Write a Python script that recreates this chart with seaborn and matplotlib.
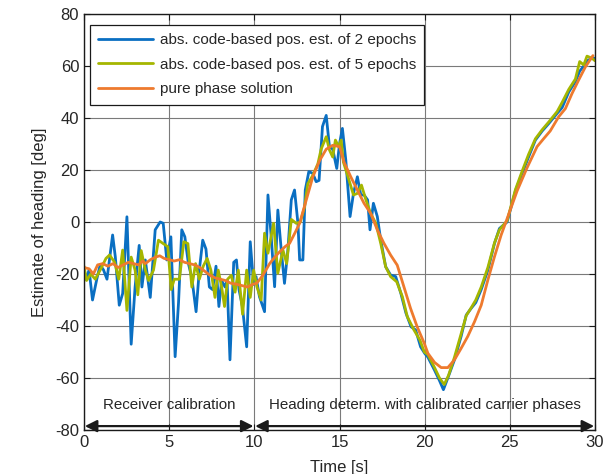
"""Heading estimate: code-based vs. pure phase solution."""

import matplotlib
matplotlib.use("Agg")
import matplotlib.pyplot as plt
import numpy as np
import seaborn as sns

# --- data ------------------------------------------------------------------
t_code2 = [0, 0.1, 0.3, 0.5, 0.75, 0.95, 1.15, 1.35, 1.68, 1.84, 2.07, 2.27, 2.52, 2.77,
           3.0, 3.24, 3.4, 3.6, 3.89, 4.18, 4.47, 4.65, 4.86, 5.1, 5.35, 5.55, 5.74, 5.92,
           6.13, 6.33, 6.58, 6.77, 6.97, 7.16, 7.36, 7.55, 7.75, 7.92, 8.08, 8.28, 8.4,
           8.57, 8.79, 8.95, 9.1, 9.3, 9.55, 9.76, 9.96, 10.1, 10.3, 10.6, 10.8, 10.99,
           11.19, 11.38, 11.58, 11.77, 11.97, 12.17, 12.36, 12.56, 12.66, 12.85, 12.99,
           13.2, 13.43, 13.63, 13.8, 14.0, 14.22, 14.41, 14.6, 14.84, 15.0, 15.17, 15.37,
           15.62, 15.82, 16.05, 16.25, 16.44, 16.65, 16.79, 16.99, 17.22, 17.42, 17.71,
           18.0, 18.3, 18.6, 18.9, 19.2, 19.47, 19.76, 20.0, 20.19, 20.58, 20.87, 21.1,
           21.36, 21.75, 22.14, 22.44, 22.73, 23.0, 23.32, 23.71, 24.1, 24.39, 24.84,
           25.33, 25.72, 26.1, 26.5, 26.9, 27.29, 27.78, 28.07, 28.46, 28.85, 29.1, 29.34,
           29.53, 29.82, 30.0]
v_code2 = [-18.5, -22, -18.5, -30, -22, -16.5, -18.5, -22, -5, -13.5, -32, -27.5, 2, -47,
           -25, -9, -25, -14.6, -29, -3, 0, -0.5, -14.6, -5.7, -51.8, -31, -3, -5.7,
           -16, -21.5, -34.5, -18.5, -7, -10.4, -25, -26, -17, -32.5, -22.5, -25, -22.5,
           -53, -15.5, -14.6, -26, -32.5, -48, -7.6, -24, -21, -28.7, -34.5, 10.4, -5.6,
           -24.9, 4.6, -10.8, -23.6, -10.8, 8.5, 12.3, -0.5, -14.6, -14.6, 12.3,
           19.4, 18.7, 15.5, 16, 36.7, 41, 29, 28, 20.6, 30, 36, 23.8,
           2.1, 11, 17.4, 10.4, 10.4, 8.5, -3, 7.2, 2.1, -6.9, -17.2,
           -20.4, -21, -27.4, -35, -40.3, -41.5, -48, -50.5, -52, -57, -61, -64.5,
           -60, -53, -44, -35.8, -33.2, -31, -26, -18.5, -8.2, -2.5, 0,
           12, 18.7, 25, 31.5, 35, 37.9, 41.8, 44, 50, 54, 58, 60,
           62, 63, 63]

t_code5 = [0, 0.15, 0.4, 0.66, 0.95, 1.29, 1.5, 1.8, 2.04, 2.27, 2.52, 2.77, 3.0, 3.16,
           3.36, 3.6, 3.79, 4.08, 4.37, 4.65, 4.92, 5.12, 5.3, 5.6, 5.86, 6.1, 6.33, 6.55,
           6.77, 7.0, 7.23, 7.45, 7.69, 7.88, 8.08, 8.25, 8.43, 8.65, 8.87, 9.06, 9.31,
           9.55, 9.76, 9.96, 10.15, 10.4, 10.6, 10.8, 11.13, 11.38, 11.68, 11.9, 12.17,
           12.46, 12.7, 12.95, 13.14, 13.43, 13.73, 13.92, 14.22, 14.41, 14.6, 14.76,
           14.95, 15.1, 15.23, 15.5, 15.82, 16.05, 16.29, 16.55, 16.83, 17.13, 17.42,
           17.71, 18.0, 18.36, 18.69, 18.98, 19.37, 19.72, 19.98, 20.19, 20.58, 20.87,
           21.15, 21.4, 21.75, 22.14, 22.44, 22.73, 23.0, 23.32, 23.71, 24.1, 24.39,
           24.84, 25.33, 25.72, 26.1, 26.5, 26.9, 27.29, 27.78, 28.07, 28.46, 28.85,
           29.1, 29.34, 29.53, 29.82, 30.0]
v_code5 = [-17, -22.5, -20, -22, -18.5, -14, -12.7, -15.5, -22, -10.8, -34, -13.5, -18.5, -28,
           -11, -18.5, -22.5, -18.5, -7, -8.3, -9.5, -26, -22, -22, -7.6, -8.3, -25, -16,
           -22, -17, -14, -18.5, -29, -18.5, -25, -32.5, -22, -20.5, -27, -18.5, -35.5,
           -18.5, -29, -18.5, -24.9, -30, -4.3, -12, -0.5, -19.7, -10.8, -16, 1,
           -0.5, 0, 5.8, 14.7, 17.9, 22.4, 28, 32.8, 27.7, 25, 31.5,
           29, 31.5, 23, 17.4, 10.4, 11, 14.2, 8.5, 3.3, -0.5, -8.2,
           -17.2, -21, -23, -28.7, -36.4, -41.5, -45.4, -50, -51, -56, -60,
           -62.5, -59, -52, -43, -36, -33, -30, -25, -17.5, -8, -3,
           0.5, 12.5, 19.5, 26, 32, 35.5, 38.5, 42.5, 46, 51, 55,
           61.7, 60.4, 63.8, 63, 62]

t_phase = [0, 0.3, 0.55, 0.8, 1.1, 1.4, 1.7, 2.0, 2.3, 2.6, 2.9, 3.2, 3.45, 3.6, 3.9, 4.2,
           4.45, 4.7, 5.0, 5.3, 5.6, 5.9, 6.2, 6.5, 6.8, 7.1, 7.4, 7.7, 8.0, 8.3, 8.6, 9.0,
           9.3, 9.6, 9.9, 10.15, 10.5, 10.9, 11.2, 11.48, 11.8, 12.07, 12.4, 12.66, 13.05,
           13.43, 13.83, 14.22, 14.6, 15.0, 15.27, 15.66, 16.05, 16.44, 16.83, 17.22,
           17.61, 18.0, 18.39, 18.78, 19.17, 19.56, 19.98, 20.19, 20.58, 20.97, 21.36,
           21.75, 22.14, 22.53, 22.93, 23.32, 23.71, 24.1, 24.49, 24.88, 25.43, 26.0,
           26.6, 26.98, 27.37, 27.87, 28.26, 28.65, 29.04, 29.44, 29.88]
v_phase = [-17.5, -18, -20, -16.5, -16, -17, -16, -17.5, -16.5, -15.5, -16, -16.5, -15, -16,
           -14.5, -13.5, -13, -14, -14.5, -15, -14.5, -15.5, -16, -16.5, -17.5, -19, -20.5,
           -21.5, -22, -22.5, -23.5, -24, -24.5, -25, -24, -23.5, -20.5, -16, -13.5, -11.5,
           -9.5, -8.2, -4, -0.5, 8.5, 17.3, 23.6, 28, 29.5, 29, 23, 17.4, 12.3, 7.2, 3.3,
           -3, -8.2, -12.7, -16.6, -24.9, -33.2, -40.3, -46.7, -50.5, -54, -56, -56,
           -53, -48.6, -44, -38.3, -32, -22.3, -13.3, -5, 2, 12, 20.7, 29, 32, 35,
           40.5, 43.6, 49.4, 54.6, 59.7, 64]

series_labels = ["abs. code-based pos. est. of 2 epochs",
                 "abs. code-based pos. est. of 5 epochs",
                 "pure phase solution"]
phase_names = ["Receiver calibration", "Heading determ. with calibrated carrier phases"]
phase_spans = [(0, 10), (10, 30)]

# --- style -------------------------------------------------------------------
sns.set_theme(style="ticks")
plt.rcParams["font.family"] = ["Liberation Sans", "DejaVu Sans"]
plt.rcParams["axes.unicode_minus"] = False
plt.rcParams["xtick.direction"] = "in"
plt.rcParams["ytick.direction"] = "in"

colors = ["#0A6FC2", "#A5B600", "#EE7A2E"]

fig, ax = plt.subplots(figsize=(6.13, 4.74), dpi=100)
fig.subplots_adjust(left=84 / 613, right=595 / 613, top=1 - 14 / 474, bottom=1 - 430 / 474)

for (t, v), lab, c in zip([(t_code2, v_code2), (t_code5, v_code5), (t_phase, v_phase)],
                          series_labels, colors):
    sns.lineplot(x=t, y=v, ax=ax, color=c, lw=2.0, label=lab, estimator=None)

ax.set_xlim(0, 30)
ax.set_ylim(-80, 80)
ax.set_xticks(np.arange(0, 31, 5))
ax.set_yticks(np.arange(-80, 81, 20))
ax.tick_params(labelsize=12, top=True, right=True, length=4, width=0.8, color="k")
ax.grid(True, color="#7a7a7a", lw=0.8)
for s in ax.spines.values():
    s.set_color("k")
    s.set_linewidth(1.0)
ax.set_xlabel("Time [s]", fontsize=12, labelpad=7)
ax.set_ylabel("Estimate of heading [deg]", fontsize=12, labelpad=6)

# phase annotations with double arrows
for (a, b), name in zip(phase_spans, phase_names):
    ax.annotate("", xy=(a + 0.05, -78.5), xytext=(b - 0.05, -78.5),
                arrowprops=dict(arrowstyle="<|-|>", color="k", lw=1.6,
                                mutation_scale=18, shrinkA=0, shrinkB=0))
    ax.text((a + b) / 2, -70.5, name, ha="center", va="center", fontsize=10.9)

leg = ax.legend(loc="upper left", bbox_to_anchor=(6 / 511, 1 - 11 / 416),
                borderaxespad=0, fontsize=11, frameon=True, fancybox=False,
                edgecolor="k", framealpha=1, handlelength=3.6, handletextpad=0.4,
                borderpad=0.55, labelspacing=0.68)
leg.get_frame().set_linewidth(0.9)

fig.savefig("out.png")
